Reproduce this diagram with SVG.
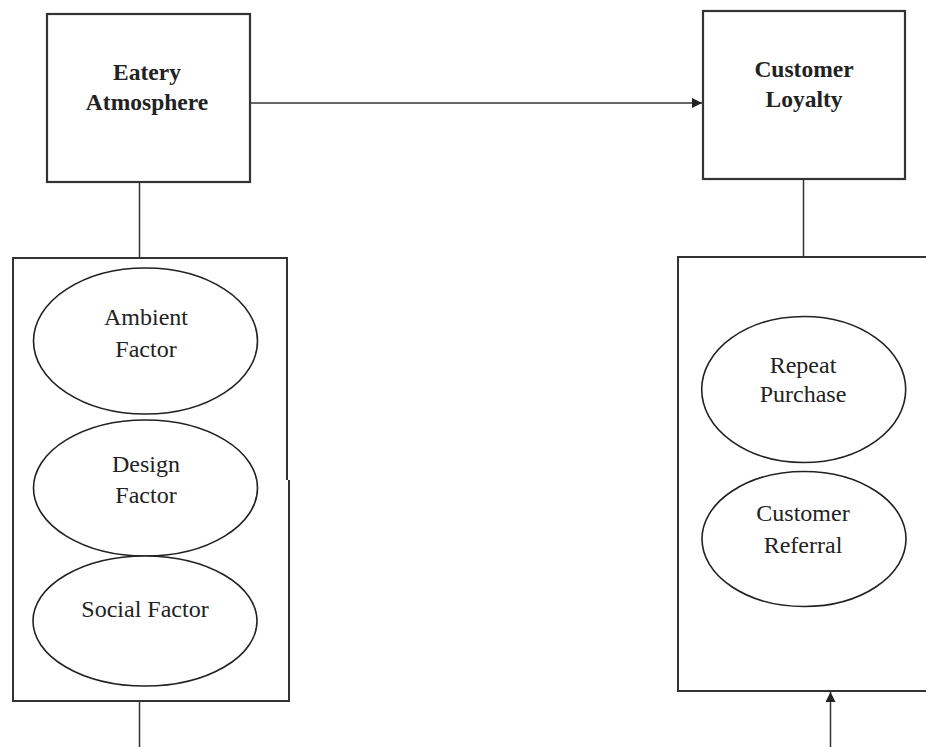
<svg xmlns="http://www.w3.org/2000/svg" width="926" height="747" viewBox="0 0 926 747">
<style>
.box{fill:#fff;stroke:#333;stroke-width:2.2}
.cont{fill:none;stroke:#333;stroke-width:2}
.ell{fill:#fff;stroke:#222;stroke-width:1.6}
.ln{stroke:#333;stroke-width:1.5;fill:none}
.t{font-family:"Liberation Serif","Times New Roman",serif;font-size:24px;fill:#222;text-anchor:middle}
.b{font-weight:bold;font-size:23.5px}
</style>
<defs>
<marker id="ah" viewBox="0 0 10 10" refX="10" refY="5" markerWidth="10" markerHeight="10" markerUnits="userSpaceOnUse" orient="auto">
<path d="M0,0 L10,5 L0,10 z" fill="#222"/>
</marker>
</defs>
<rect width="926" height="747" fill="#fff"/>
<g id="connectors">
<line class="ln" x1="250" y1="103" x2="702" y2="103" stroke-width="2.2" marker-end="url(#ah)"/>
<line class="ln" x1="139.5" y1="182" x2="139.5" y2="258"/>
<line class="ln" x1="139.5" y1="701" x2="139.5" y2="747"/>
<line class="ln" x1="803.5" y1="179" x2="803.5" y2="257"/>
<line class="ln" x1="830.5" y1="747" x2="830.5" y2="692" marker-end="url(#ah)"/>
</g>
<g id="eatery-atmosphere">
<rect class="box" x="47" y="14" width="203" height="168"/>
<text class="t b" x="147" y="80">Eatery</text>
<text class="t b" x="147" y="110">Atmosphere</text>
</g>
<g id="customer-loyalty">
<rect class="box" x="703" y="11" width="202" height="168"/>
<text class="t b" x="804" y="77">Customer</text>
<text class="t b" x="804" y="107">Loyalty</text>
</g>
<g id="atmosphere-factors">
<path class="cont" d="M287,480 L287,258 L13,258 L13,701 L289,701 L289,480"/>
</g>
<g id="ambient-factor">
<ellipse class="ell" cx="145.5" cy="341" rx="112" ry="73"/>
<text class="t" x="146" y="325">Ambient</text>
<text class="t" x="146" y="357">Factor</text>
</g>
<g id="design-factor">
<ellipse class="ell" cx="145.5" cy="488" rx="112" ry="68"/>
<text class="t" x="146" y="472">Design</text>
<text class="t" x="146" y="503">Factor</text>
</g>
<g id="social-factor">
<ellipse class="ell" cx="145" cy="621" rx="112" ry="65"/>
<text class="t" x="145" y="617">Social Factor</text>
</g>
<g id="loyalty-factors">
<path class="cont" d="M930,257 L678,257 L678,691 L930,691"/>
</g>
<g id="repeat-purchase">
<ellipse class="ell" cx="803.7" cy="389.5" rx="102" ry="73"/>
<text class="t" x="803" y="373">Repeat</text>
<text class="t" x="803" y="402">Purchase</text>
</g>
<g id="customer-referral">
<ellipse class="ell" cx="804" cy="539" rx="102" ry="67.5"/>
<text class="t" x="803" y="521">Customer</text>
<text class="t" x="803" y="553">Referral</text>
</g>
</svg>
